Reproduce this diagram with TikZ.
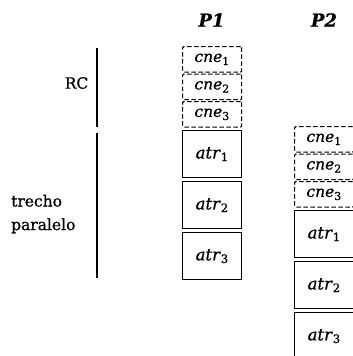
\documentclass[tikz,border=0pt]{standalone}
\usepackage{fontspec}
\setmainfont{DejaVu Serif}[FakeBold=0.8]
\begin{document}
\begin{tikzpicture}[x=1pt,y=-1pt,
  cnebox/.style={draw, dash pattern=on 4.5pt off 2.5pt, line width=1.2pt, rounded corners=1pt,
    minimum width=59pt, minimum height=25.5pt, inner sep=0pt, anchor=north west,
    font=\fontsize{15.5}{17}\selectfont},
  atrbox/.style={draw, line width=1.3pt, minimum width=59pt, minimum height=47pt,
    inner sep=0pt, anchor=north west, font=\fontsize{16.5}{18}\selectfont},
  plabel/.style={inner sep=0pt, font=\fontsize{18}{20}\selectfont\bfseries\itshape},
  lbl/.style={inner sep=0pt, font=\fontsize{15.5}{23.5}\selectfont},
  bar/.style={line width=1.2pt}]
\useasboundingbox (0,0) rectangle (353,356);
% column labels
\node[plabel] (p1) at (211.5,20) {P1};
\node[plabel] (p2) at (324,20) {P2};
% side labels
\node[lbl, anchor=east] (rc) at (88.5,83) {RC};
\node[lbl, anchor=west, align=left] (tp) at (11,214) {trecho\\paralelo};
\coordinate (rcA) at (97,48);
\coordinate (rcB) at (97,127);
\coordinate (tpA) at (97,133);
\coordinate (tpB) at (97,278);
\draw[bar] (rcA) -- (rcB);
\draw[bar] (tpA) -- (tpB);
% columns
\foreach \c/\x/\y in {P1/182/46, P2/294/126} {
  \node[cnebox] (\c-cne1) at (\x,\y)      {\textit{cne}\textsubscript{1}};
  \node[cnebox] (\c-cne2) at (\x,\y+27.5) {\textit{cne}\textsubscript{2}};
  \node[cnebox] (\c-cne3) at (\x,\y+55)   {\textit{cne}\textsubscript{3}};
  \node[atrbox] (\c-atr1) at (\x,\y+84)   {\textit{atr}\textsubscript{1}};
  \node[atrbox] (\c-atr2) at (\x,\y+135)  {\textit{atr}\textsubscript{2}};
  \node[atrbox] (\c-atr3) at (\x,\y+186)  {\textit{atr}\textsubscript{3}};
}
\end{tikzpicture}
\end{document}
